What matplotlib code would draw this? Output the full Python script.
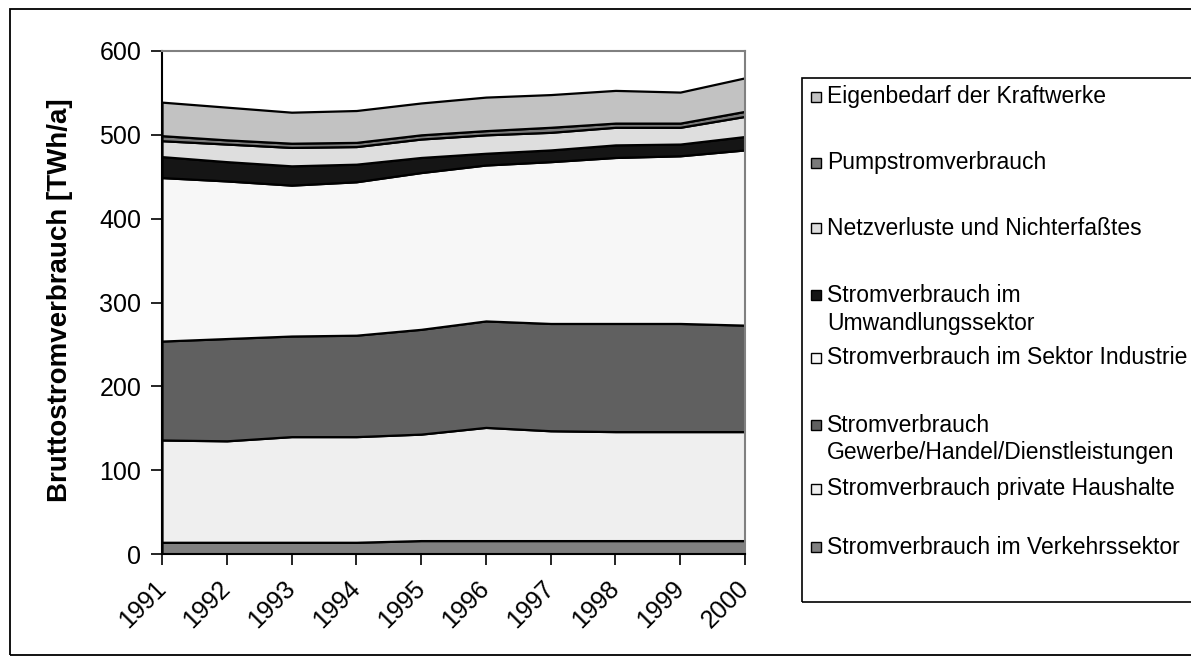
import numpy as np
import matplotlib.pyplot as plt
from matplotlib.patches import Rectangle

plt.rcParams['font.family'] = ['Liberation Sans', 'DejaVu Sans']

# data (TWh/a), stacked bottom -> top
years = ['1991', '1992', '1993', '1994', '1995', '1996', '1997', '1998', '1999', '2000']
verkehr = [14, 14, 14, 14, 16, 16, 16, 16, 16, 16]
haushalte = [122, 121, 126, 126, 127, 135, 131, 130, 130, 130]
gewerbe = [118, 122, 120, 121, 125, 127, 128, 129, 129, 127]
industrie = [195, 188, 180, 183, 187, 186, 193, 198, 200, 209]
umwandlung = [25, 23, 23, 21, 18, 14, 14, 15, 14, 16]
netzverluste = [19, 21, 22, 21, 22, 22, 21, 21, 20, 24]
pumpstrom = [6, 5, 5, 5, 5, 5, 6, 5, 5, 6]
eigenbedarf = [40, 39, 37, 38, 38, 40, 39, 39, 37, 40]

series = [verkehr, haushalte, gewerbe, industrie, umwandlung,
          netzverluste, pumpstrom, eigenbedarf]
labels = ['Stromverbrauch im Verkehrssektor',
          'Stromverbrauch private Haushalte',
          'Stromverbrauch\nGewerbe/Handel/Dienstleistungen',
          'Stromverbrauch im Sektor Industrie',
          'Stromverbrauch im\nUmwandlungssektor',
          'Netzverluste und Nichterfaßtes',
          'Pumpstromverbrauch',
          'Eigenbedarf der Kraftwerke']
colors = ['#808080', '#efefef', '#606060', '#f7f7f7',
          '#151515', '#dedede', '#7a7a7a', '#c2c2c2']

W, H = 1191, 664


def fx(px):
    return px / W


def fy(py):
    return 1 - py / H


fig = plt.figure(figsize=(W / 100, H / 100), dpi=100)

# outer chart border
fig.patches.append(Rectangle((fx(10), fy(655)), 1.2, (655 - 9) / H, fill=False,
                             edgecolor='black', linewidth=1.3,
                             transform=fig.transFigure, figure=fig))

ax = fig.add_axes([fx(162), fy(554), fx(745) - fx(162), fy(51) - fy(554)])
x = np.arange(len(years))
ax.stackplot(x, *series, colors=colors, edgecolor='black', linewidth=1.6)

ax.set_xlim(0, len(years) - 1)
ax.set_ylim(0, 600)
ax.set_yticks(range(0, 601, 100))
ax.set_xticks(x)
ax.set_xticklabels(years, rotation=45, ha='right', va='center',
                   rotation_mode='anchor')
ax.tick_params(axis='y', labelsize=18, length=8, width=1.2, pad=7, direction='out')
ax.tick_params(axis='x', labelsize=18, length=8, width=1.2, pad=14, direction='out')
for s in ['top', 'right']:
    ax.spines[s].set_color('#808080')
    ax.spines[s].set_linewidth(1.5)
for s in ['left', 'bottom']:
    ax.spines[s].set_color('black')
    ax.spines[s].set_linewidth(1.5)

fig.text(fx(60), fy(300), 'Bruttostromverbrauch [TWh/a]', rotation=90,
         ha='center', va='center', fontsize=20, fontweight='bold')

# legend drawn by hand to match the original layout (top entry first)
fig.patches.append(Rectangle((fx(802), fy(602)), 1.0, (602 - 78) / H, fill=False,
                             edgecolor='black', linewidth=1.2,
                             transform=fig.transFigure, figure=fig))
row_y = [97, 163, 228, 295, 358, 425, 489, 547]
for py, lab, col in zip(row_y, labels[::-1], colors[::-1]):
    fig.patches.append(Rectangle((fx(811), fy(py + 5)), 10 / W, 10 / H,
                                 facecolor=col, edgecolor='black', linewidth=1,
                                 transform=fig.transFigure, figure=fig))
    for i, line in enumerate(lab.split('\n')):
        fig.text(fx(827), fy(py + 28 * i), line, ha='left', va='center',
                 fontsize=16.5)

fig.savefig('out.png', dpi=100)
